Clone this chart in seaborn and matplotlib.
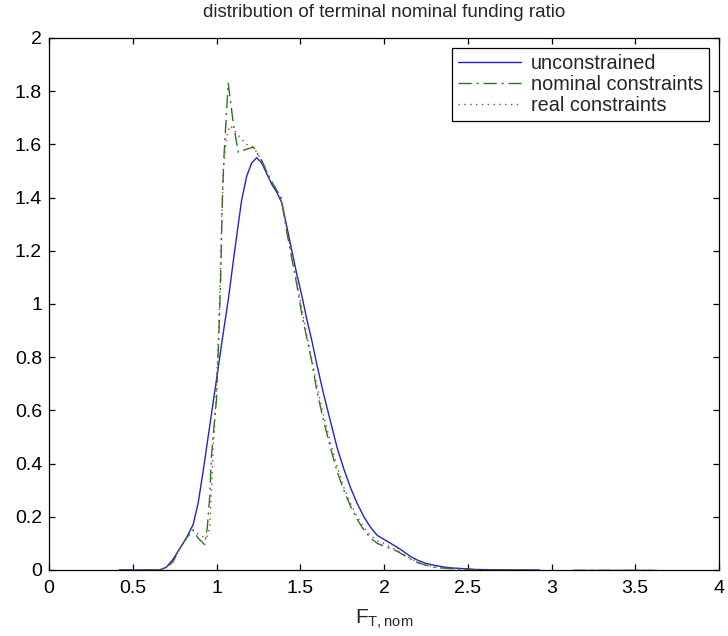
import numpy as np
import pandas as pd
import matplotlib
matplotlib.use("Agg")
import matplotlib.pyplot as plt
from matplotlib.ticker import FuncFormatter, MultipleLocator
import seaborn as sns

# Density estimates of the terminal nominal funding ratio F_T,nom
unc_x = [0.42, 0.50, 0.60, 0.66, 0.70, 0.74, 0.78, 0.82, 0.86, 0.89, 0.92, 0.95,
         0.98, 1.01, 1.04, 1.07, 1.10, 1.13, 1.15, 1.18, 1.21, 1.24, 1.27, 1.30,
         1.33, 1.36, 1.39, 1.42, 1.45, 1.48, 1.51, 1.54, 1.57, 1.60, 1.64, 1.68,
         1.72, 1.76, 1.80, 1.84, 1.88, 1.92, 1.96, 2.00, 2.04, 2.08, 2.12, 2.16,
         2.20, 2.25, 2.30, 2.35, 2.40, 2.45, 2.50, 2.55, 2.65, 2.80, 2.93]
unc_y = [0.0, 0.0, 0.0, 0.0, 0.01, 0.04, 0.08, 0.12, 0.17, 0.25, 0.37, 0.50,
         0.63, 0.76, 0.89, 1.015, 1.16, 1.30, 1.39, 1.48, 1.53, 1.55, 1.53, 1.49,
         1.45, 1.42, 1.38, 1.29, 1.20, 1.11, 1.03, 0.94, 0.86, 0.77, 0.66, 0.56,
         0.46, 0.38, 0.31, 0.25, 0.20, 0.16, 0.13, 0.115, 0.10, 0.085, 0.068, 0.05,
         0.037, 0.025, 0.018, 0.012, 0.008, 0.006, 0.004, 0.002, 0.001, 0.0, 0.0]
unc_tail_x = [3.13, 3.40, 3.63]
unc_tail_y = [0.0, 0.0, 0.0]

nom_x = [0.42, 0.55, 0.66, 0.70, 0.74, 0.78, 0.82, 0.86, 0.89, 0.93, 0.945,
         0.96, 0.97, 0.985, 1.00, 1.015, 1.025, 1.035, 1.045, 1.07, 1.10, 1.13,
         1.17, 1.22, 1.27, 1.32, 1.385, 1.42, 1.45, 1.48, 1.51, 1.54, 1.57, 1.60,
         1.64, 1.68, 1.72, 1.76, 1.80, 1.84, 1.88, 1.92, 1.96, 2.00, 2.04, 2.08,
         2.12, 2.16, 2.20, 2.25, 2.30, 2.40, 2.50, 2.60, 2.90]
nom_y = [0.0, 0.0, 0.0, 0.01, 0.03, 0.08, 0.12, 0.15, 0.12, 0.095, 0.16,
         0.28, 0.43, 0.54, 0.64, 0.90, 1.10, 1.39, 1.56, 1.83, 1.68, 1.57,
         1.58, 1.59, 1.54, 1.47, 1.40, 1.27, 1.17, 1.07, 0.96, 0.87, 0.78, 0.67,
         0.56, 0.46, 0.37, 0.30, 0.24, 0.19, 0.15, 0.12, 0.10, 0.09, 0.08, 0.07,
         0.055, 0.04, 0.028, 0.018, 0.010, 0.005, 0.002, 0.0, 0.0]
nom_tail_x = [3.13, 3.40, 3.60]
nom_tail_y = [0.0, 0.0, 0.0]

real_x = [0.42, 0.55, 0.66, 0.70, 0.74, 0.78, 0.82, 0.86, 0.90, 0.94, 0.96,
          0.97, 0.98, 0.995, 1.01, 1.02, 1.03, 1.04, 1.06, 1.08, 1.10, 1.12,
          1.15, 1.18, 1.22, 1.27, 1.32, 1.385, 1.42, 1.45, 1.48, 1.51, 1.54,
          1.57, 1.60, 1.64, 1.68, 1.72, 1.76, 1.80, 1.84, 1.88, 1.92, 1.96,
          2.00, 2.04, 2.08, 2.12, 2.16, 2.20, 2.25, 2.30, 2.40, 2.50, 2.60, 2.90]
real_y = [0.0, 0.0, 0.0, 0.01, 0.03, 0.08, 0.12, 0.15, 0.13, 0.12, 0.16,
          0.30, 0.45, 0.62, 0.85, 1.05, 1.30, 1.50, 1.63, 1.67, 1.66, 1.64,
          1.62, 1.60, 1.59, 1.54, 1.47, 1.40, 1.28, 1.18, 1.08, 0.98, 0.88,
          0.79, 0.69, 0.58, 0.48, 0.39, 0.31, 0.25, 0.20, 0.16, 0.13, 0.11,
          0.10, 0.085, 0.072, 0.058, 0.043, 0.030, 0.020, 0.012, 0.006, 0.002, 0.0, 0.0]
real_tail_x = [3.13, 3.40, 3.60]
real_tail_y = [0.0, 0.0, 0.0]

series_names = ["unconstrained", "nominal constraints", "real constraints"]

frames = []
for name, seg_list in [
    ("unconstrained", [(unc_x, unc_y), (unc_tail_x, unc_tail_y)]),
    ("nominal constraints", [(nom_x, nom_y), (nom_tail_x, nom_tail_y)]),
    ("real constraints", [(real_x, real_y), (real_tail_x, real_tail_y)]),
]:
    for k, (xs, ys) in enumerate(seg_list):
        frames.append(pd.DataFrame({"F": xs, "density": ys,
                                    "series": name, "segment": f"{name}-{k}"}))
df = pd.concat(frames, ignore_index=True)

sns.set_theme(style="ticks")
plt.rcParams["font.family"] = ["Liberation Sans", "DejaVu Sans"]
plt.rcParams["mathtext.default"] = "regular"

palette = {"unconstrained": "#2323c8",
           "nominal constraints": "#237a23",
           "real constraints": "#b03a3a"}
dashes = {"unconstrained": "",
          "nominal constraints": (9.5, 3.5, 1.5, 3.5),
          "real constraints": (1, 3.2)}

fig = plt.figure(figsize=(7.28, 6.36), dpi=100)
ax = fig.add_axes([49 / 728, 1 - 570 / 636, (719 - 49) / 728, (570 - 38) / 636])

sns.lineplot(data=df, x="F", y="density", hue="series", style="series",
             units="segment", estimator=None, sort=False,
             hue_order=series_names, style_order=series_names,
             palette=palette, dashes=dashes, linewidth=1.0, ax=ax)

ax.set_xlim(0, 4)
ax.set_ylim(0, 2)
ax.xaxis.set_major_locator(MultipleLocator(0.5))
ax.yaxis.set_major_locator(MultipleLocator(0.2))
fmt = FuncFormatter(lambda v, p: f"{v:g}")
ax.xaxis.set_major_formatter(fmt)
ax.yaxis.set_major_formatter(fmt)
ax.tick_params(direction="in", length=4.5, width=0.9, top=True, right=True,
               labelsize=14, colors="black")
ax.tick_params(axis="x", pad=7)
ax.tick_params(axis="y", pad=5)
for s in ax.spines.values():
    s.set_visible(True)
    s.set_color("black")
    s.set_linewidth(0.9)

ax.set_title("distribution of terminal nominal funding ratio", fontsize=13.5, pad=15)
ax.set_xlabel(r"$F_{T,nom}$", fontsize=15, labelpad=8)
ax.set_ylabel("")

handles, labels = ax.get_legend_handles_labels()
leg = ax.legend(handles, labels, loc="upper right", fontsize=14.3,
                frameon=True, fancybox=False, edgecolor="black", framealpha=1,
                handlelength=3.2, handletextpad=0.5, borderpad=0.3,
                labelspacing=0.1, borderaxespad=0.5)
leg.get_frame().set_linewidth(0.9)

fig.savefig("out.png", dpi=100)
